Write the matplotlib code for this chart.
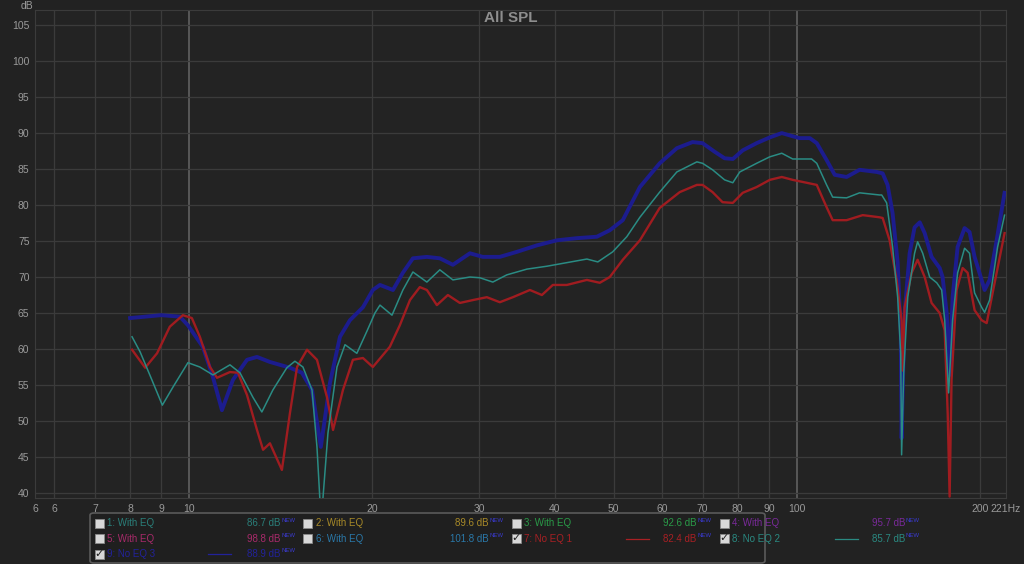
import matplotlib
matplotlib.use("Agg")
import matplotlib.pyplot as plt
from matplotlib.patches import Rectangle, FancyBboxPatch
from matplotlib.lines import Line2D

plt.rcParams['font.family'] = ['Liberation Sans', 'DejaVu Sans']

# ---- data (frequency in Hz, level in dB) ----
blue_f = [8.0, 9.0, 9.66, 9.96, 10.54, 10.95, 11.33, 11.81, 12.46, 12.94, 13.59, 14.66, 15.34,
          15.94, 16.48, 17.06, 17.72, 18.4, 19.33, 20.07, 20.62, 21.66, 22.49, 23.36, 24.63,
          25.87, 27.18, 28.99, 30.44, 32.47, 34.64, 37.37, 40.3, 43.48, 46.9, 49.25, 51.74,
          55.2, 59.5, 63.5, 67.4, 70.0, 73.3, 76.1, 78.5, 81.5, 85.9, 90.3, 94.5, 98.1, 101.1,
          105.1, 107.9, 112.0, 115.5, 120.8, 126.9, 135.4, 138.5, 141.1, 143.8, 146.6, 148.3,
          148.8, 150.5, 153.4, 156.3, 159.4, 162.4, 166.7, 171.9, 173.8, 176.5, 177.8, 178.5,
          180.5, 184.0, 188.9, 192.5, 196.2, 201.5, 203.8, 207.7, 213.3, 219.8]
blue_db = [64.3, 64.7, 64.5, 63.3, 60.3, 56.1, 51.5, 55.7, 58.5, 58.9, 58.2, 57.4, 56.7,
           54.3, 46.4, 55.3, 61.7, 64.0, 65.8, 68.2, 68.9, 68.2, 70.6, 72.6, 72.8,
           72.6, 71.7, 73.3, 72.8, 72.8, 73.5, 74.4, 75.1, 75.4, 75.6, 76.5, 77.9,
           82.5, 85.8, 87.9, 88.75, 88.6, 87.4, 86.5, 86.4, 87.6, 88.6, 89.4, 90.0, 89.6, 89.3,
           89.3, 88.6, 86.25, 84.2, 83.9, 84.9, 84.6, 84.4, 82.8, 78.9, 72.0, 62.6,
           47.6, 65.0, 73.3, 76.9, 77.6, 76.1, 72.8, 71.25, 70.0, 65.0, 59.4, 56.4,
           67.2, 74.2, 76.8, 76.25, 72.8, 69.6, 68.2, 69.6, 75.1, 81.7]

teal_f = [8.06, 8.31, 8.69, 9.04, 9.41, 9.96, 10.42, 10.95, 11.68, 12.13, 12.74, 13.18, 13.74,
          14.49, 14.94, 15.40, 15.94, 16.24, 16.5, 16.93, 17.52, 18.06, 18.89, 19.63, 20.23,
          20.62, 21.58, 22.49, 23.36, 24.63, 25.87, 27.18, 28.99, 30.1, 31.62, 33.34, 35.98,
          38.8, 41.86, 45.16, 47.07, 49.8, 52.53, 55.2, 59.5, 63.5, 68.5, 70.0, 72.7, 76.1,
          78.5, 80.6, 85.9, 90.3, 94.5, 98.5, 105.8, 107.9, 112.0, 114.6, 120.8, 126.9, 136.9,
          138.0, 140.6, 143.8, 146.6, 148.3, 148.8, 150.0, 152.3, 156.3, 158.1, 161.2, 165.5,
          170.0, 173.2, 175.2, 177.8, 180.5, 184.0, 188.9, 192.5, 196.2, 201.5, 203.8, 207.7,
          214.1, 219.8]
teal_db = [61.7, 59.6, 55.7, 52.2, 54.7, 58.1, 57.5, 56.4, 57.8, 56.7, 53.3, 51.25, 54.3,
           57.4, 58.3, 57.5, 54.3, 46.4, 36.0, 48.3, 57.5, 60.6, 59.4, 62.5, 65.0,
           66.1, 64.7, 68.2, 70.7, 69.3, 71.0, 69.6, 70.0, 69.9, 69.3, 70.3, 71.1,
           71.5, 72.0, 72.5, 72.1, 73.5, 75.6, 78.3, 81.8, 84.6, 86.0, 85.8, 84.9, 83.5,
           83.1, 84.6, 85.8, 86.7, 87.2, 86.4, 86.4, 85.8, 82.8, 81.1, 81.0, 81.7, 81.4,
           81.4, 80.3, 74.2, 67.2, 59.4, 45.3, 56.7, 67.2, 73.3, 74.9, 73.3, 70.0,
           69.2, 68.2, 64.0, 53.9, 64.0, 70.6, 74.0, 73.3, 67.8, 65.8, 65.1, 66.8,
           74.2, 78.6]

red_f = [8.06, 8.47, 8.86, 9.30, 9.77, 10.11, 10.42, 10.83, 11.12, 11.68, 12.04, 12.46, 12.94,
         13.24, 13.59, 14.22, 14.66, 15.06, 15.64, 16.24, 16.87, 17.26, 17.92, 18.61, 19.33,
         20.07, 21.4, 22.23, 23.1, 23.98, 24.63, 25.58, 26.67, 27.91, 29.32, 30.91, 32.47,
         34.12, 36.39, 38.08, 39.69, 41.86, 45.16, 47.42, 49.25, 51.74, 55.2, 59.5, 64.2,
         68.5, 70.0, 72.7, 75.5, 78.5, 81.5, 85.9, 90.3, 94.5, 98.5, 103.8, 107.9, 112.0,
         114.6, 120.8, 128.4, 136.9, 138.5, 142.2, 146.0, 148.8, 149.4, 150.5, 154.6, 158.1,
         162.4, 166.7, 171.9, 175.2, 177.2, 178.5, 179.8, 183.3, 187.5, 191.1, 196.2, 201.5,
         205.4, 210.1, 219.8]
red_db = [59.9, 57.4, 59.4, 63.1, 64.7, 64.3, 61.7, 57.5, 56.0, 56.8, 56.7, 53.6, 48.75,
          46.0, 46.9, 43.2, 51.1, 57.5, 59.9, 58.5, 53.3, 48.75, 54.3, 58.5, 58.75,
          57.5, 60.3, 63.3, 66.8, 68.6, 68.2, 66.1, 67.5, 66.4, 66.8, 67.2, 66.5,
          67.2, 68.2, 67.5, 68.9, 68.9, 69.6, 69.2, 70.0, 72.4, 75.1, 79.6, 81.8,
          82.8, 82.8, 81.8, 80.4, 80.3, 81.7, 82.5, 83.5, 83.9, 83.5, 83.1, 82.8, 79.7,
          77.9, 77.9, 78.6, 78.3, 78.2, 75.1, 69.6, 64.0, 57.0, 65.8, 70.6, 72.4,
          70.0, 66.4, 65.0, 62.6, 51.0, 39.5, 55.7, 68.2, 71.25, 70.6, 65.4, 64.0,
          63.6, 67.8, 76.1]

x_ticks = [5.58, 6, 7, 8, 9, 10, 20, 30, 40, 50, 60, 70, 80, 90, 100, 200, 221]
x_tick_labels = ["6", "6", "7", "8", "9", "10", "20", "30", "40", "50", "60", "70", "80",
                 "90", "100", "200", "221Hz"]
y_ticks = [40, 45, 50, 55, 60, 65, 70, 75, 80, 85, 90, 95, 100, 105]

legend_labels = ["1: With EQ", "2: With EQ", "3: With EQ", "4: With EQ", "5: With EQ",
                 "6: With EQ", "7: No EQ 1", "8: No EQ 2", "9: No EQ 3"]
legend_values = ["86.7 dB", "89.6 dB", "92.6 dB", "95.7 dB", "98.8 dB", "101.8 dB",
                 "82.4 dB", "85.7 dB", "88.9 dB"]
legend_checked = [False, False, False, False, False, False, True, True, True]
legend_colors = ["#2a7f7a", "#a88a28", "#2a9a48", "#7a2a9a", "#a82a6a", "#2a78a8",
                 "#a82024", "#2a8a82", "#22229a"]

BG = "#222222"
GRID = "#3b3b3b"

fig = plt.figure(figsize=(10.24, 5.64), dpi=100, facecolor=BG)
ax = fig.add_axes([35/1024, 66/564, 971/1024, 488/564], facecolor="#232323")
ax.set_xscale("log")
ax.set_xlim(5.58, 221)
ax.set_ylim(39.3, 107.1)

# grid
for f in [6, 7, 8, 9, 20, 30, 40, 50, 60, 70, 80, 90, 200]:
    ax.axvline(f, color=GRID, lw=0.9, zorder=1)
for f in [10, 100]:
    ax.axvline(f, color="#5c5c5c", lw=1.3, zorder=1)
for v in y_ticks:
    ax.axhline(v, color=GRID, lw=0.9, zorder=1)

ax.plot(blue_f, blue_db, color="#1c1c8e", lw=2.8, zorder=3, solid_joinstyle="round")
ax.plot(red_f, red_db, color="#a01c20", lw=1.7, zorder=4, solid_joinstyle="round")
ax.plot(teal_f, teal_db, color="#2a8c84", lw=1.1, zorder=5, solid_joinstyle="round")

ax.minorticks_off()
ax.set_xticks(x_ticks)
ax.set_xticklabels(x_tick_labels)
ax.set_yticks(y_ticks)
ax.tick_params(length=0, colors="#9a9a9a", labelsize=7.5, pad=4)
for s in ax.spines.values():
    s.set_color(GRID)

fig.text(27/1024, 1 - 6/564, "dB", color="#9a9a9a", fontsize=7.5, ha="center", va="center")
fig.text(511/1024, 1 - 18/564, "All SPL", color="#8e8e8e", fontsize=11, fontweight="bold",
         ha="center", va="center")

# legend panel
px = lambda x: x / 1024
py = lambda y: 1 - y / 564
fig.patches.append(FancyBboxPatch((px(90), py(563)), px(765) - px(90), py(513) - py(563),
                                  boxstyle="round,pad=0,rounding_size=0.004",
                                  transform=fig.transFigure, facecolor="#1f1f1f",
                                  edgecolor="#5a5a5a", lw=1.2, zorder=0))
for i, lab in enumerate(legend_labels):
    row, col = i // 4, i % 4
    yc = 523 + row * 15.5
    cx = 99 + col * 208.5
    fig.patches.append(Rectangle((px(cx - 4.5), py(yc + 4.5)), px(9), 9 / 564,
                                 transform=fig.transFigure, facecolor="#d8d8d8",
                                 edgecolor="#8a8a8a", lw=0.6, zorder=2))
    if legend_checked[i]:
        fig.text(px(cx), py(yc), "\u2713", color="#202020", fontsize=8, ha="center",
                 va="center", family=["DejaVu Sans"], zorder=3)
        fig.lines.append(Line2D([px(208 + col * 209), px(231 + col * 209)], [py(yc), py(yc)],
                                transform=fig.transFigure, color=legend_colors[i], lw=0.9))
    fig.text(px(107 + col * 208.5), py(yc), lab, color=legend_colors[i], fontsize=7,
             ha="left", va="center")
    fig.text(px(280 + col * 208.3), py(yc), legend_values[i], color=legend_colors[i],
             fontsize=7, ha="right", va="center")
    fig.text(px(281 + col * 208.3), py(yc - 3), "NEW", color="#3a3ad0", fontsize=4.3,
             ha="left", va="center")

fig.savefig("out.png", dpi=100, facecolor=BG)
